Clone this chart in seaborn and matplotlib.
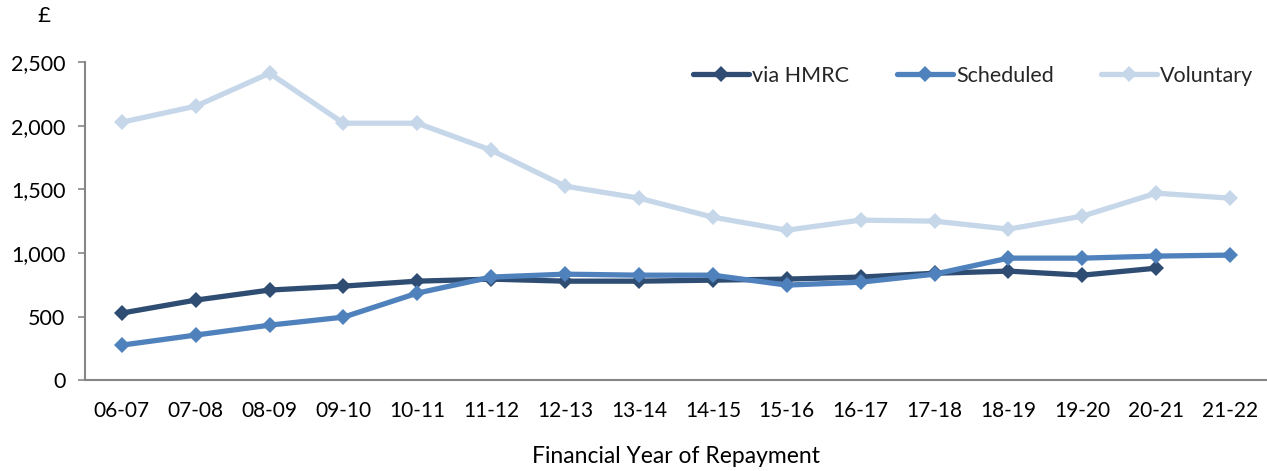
import numpy as np
import pandas as pd
import matplotlib
matplotlib.use("Agg")
import matplotlib.pyplot as plt
import seaborn as sns
from matplotlib.ticker import FuncFormatter

years = ["06-07", "07-08", "08-09", "09-10", "10-11", "11-12", "12-13", "13-14",
         "14-15", "15-16", "16-17", "17-18", "18-19", "19-20", "20-21", "21-22"]
via_hmrc = [527, 629, 708, 739, 778, 794, 778, 778, 786, 794, 810, 840, 857, 825, 880, np.nan]
scheduled = [275, 354, 432, 495, 684, 810, 833, 825, 825, 747, 770, 833, 959, 959, 975, 983]
voluntary = [2028, 2154, 2413, 2020, 2020, 1808, 1525, 1431, 1281, 1179, 1258, 1250, 1187, 1289, 1470, 1431]
series_names = ["via HMRC", "Scheduled", "Voluntary"]

df = pd.DataFrame({
    "year": years * 3,
    "pos": list(range(len(years))) * 3,
    "value": via_hmrc + scheduled + voluntary,
    "series": [series_names[0]] * len(years) + [series_names[1]] * len(years) + [series_names[2]] * len(years),
}).dropna()

sns.set_theme(style="white")
plt.rcParams["font.family"] = ["Lato", "DejaVu Sans"]

colors = {"via HMRC": "#2F4D73", "Scheduled": "#4F81BD", "Voluntary": "#C6D7EA"}

fig = plt.figure(figsize=(12.67, 4.71), dpi=100)
ax = fig.add_axes([0.067, 0.193, 0.933, 0.675])

sns.lineplot(data=df, x="pos", y="value", hue="series", hue_order=series_names,
             palette=colors, marker="D", markersize=8.5, markeredgewidth=0,
             linewidth=3.8, ax=ax, sort=False, legend=True)

ax.set_xlim(-0.5, len(years) - 0.5)
ax.set_ylim(0, 2500)
ax.set_yticks([0, 500, 1000, 1500, 2000, 2500])
ax.yaxis.set_major_formatter(FuncFormatter(lambda v, p: f"{int(v):,}"))
ax.set_xticks(range(len(years)))
ax.set_xticklabels(years)

for s in ["top", "right"]:
    ax.spines[s].set_visible(False)
for s in ["left", "bottom"]:
    ax.spines[s].set_color("#868686")
    ax.spines[s].set_linewidth(1.5)

ax.tick_params(axis="y", which="major", left=True, length=5, width=1.2, color="#868686",
               labelsize=15.5, labelcolor="#000000", pad=9)
ax.tick_params(axis="x", which="major", bottom=False, labelsize=15, labelcolor="#000000", pad=9)

ax.set_xlabel("Financial Year of Repayment", fontsize=16.5, labelpad=18, color="#000000")
ax.set_ylabel("")
fig.text(0.035, 0.965, "£", fontsize=16, ha="center", va="center", color="#000000")

handles, labels = ax.get_legend_handles_labels()
ax.legend(handles, labels, loc="upper right", bbox_to_anchor=(1.005, 1.05), ncol=3,
          frameon=False, fontsize=15.5, handlelength=2.6, handletextpad=0.15,
          columnspacing=2.2)

fig.savefig("out.png", dpi=100)
